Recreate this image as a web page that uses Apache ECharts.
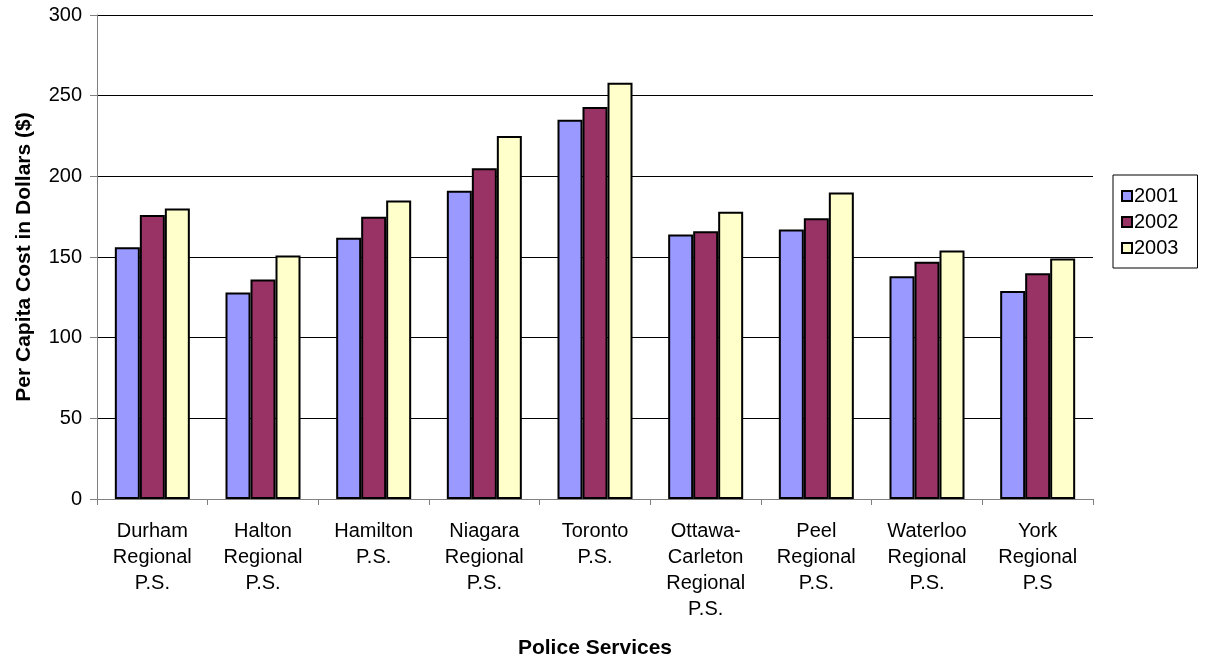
<!DOCTYPE html>
<html><head><meta charset="utf-8">
<script src="https://cdn.jsdelivr.net/npm/echarts@6/dist/echarts.min.js"></script>
<style>html,body{margin:0;padding:0;background:#fff}#c{width:1209px;height:666px}</style>
</head><body><div id="c"></div>
<script>
const categories = ["Durham\nRegional\nP.S.","Halton\nRegional\nP.S.","Hamilton\nP.S.","Niagara\nRegional\nP.S.","Toronto\nP.S.","Ottawa-\nCarleton\nRegional\nP.S.","Peel\nRegional\nP.S.","Waterloo\nRegional\nP.S.","York\nRegional\nP.S"];
const s2001 = [156,128,162,191,235,164,167,138,129];
const s2002 = [176,136,175,205,243,166,174,147,140];
const s2003 = [180,151,185,225,258,178,190,154,149];
const seriesNames = ["2001","2002","2003"];
const colors = ["#9999ff","#993366","#ffffcc"];
const font = "Liberation Sans, Arial, sans-serif";
const chart = echarts.init(document.getElementById('c'));
const mk = (name, data, col) => ({
  name, type:'bar', data, barWidth:25, barGap:'0%',
  itemStyle:{color:col, borderColor:'#000', borderWidth:2},
});
chart.setOption({
  animation:false,
  grid:{left:97, right:116, top:15, bottom:167},
  legend:{
    orient:'vertical', left:1113, top:175,
    padding:[11,19,10,8], itemGap:6,
    borderColor:'#000', borderWidth:1,
    itemWidth:10, itemHeight:10, icon:'rect',
    textStyle:{fontFamily:font, fontSize:20, lineHeight:20, color:'#000', padding:[0,0,0,-3]},
    data:seriesNames.map((n,i)=>({name:n, itemStyle:{color:colors[i], borderColor:'#000', borderWidth:2}}))
  },
  xAxis:{
    type:'category', data:categories,
    name:'Police Services', nameLocation:'middle', nameGap:139,
    nameTextStyle:{fontFamily:font, fontSize:21, fontWeight:'bold', color:'#000'},
    axisLine:{lineStyle:{color:'#808080', width:1}},
    axisTick:{show:true, length:6, lineStyle:{color:'#808080'}},
    axisLabel:{fontFamily:font, fontSize:20, color:'#000', lineHeight:26, margin:19, interval:0}
  },
  yAxis:{
    type:'value', min:0, max:300, interval:50,
    name:'Per Capita Cost in Dollars ($)', nameLocation:'middle', nameGap:62,
    nameTextStyle:{fontFamily:font, fontSize:21, fontWeight:'bold', color:'#000'},
    axisLine:{show:true, lineStyle:{color:'#808080'}},
    axisTick:{show:true, length:7, lineStyle:{color:'#808080'}},
    axisLabel:{fontFamily:font, fontSize:20, color:'#000', margin:15},
    splitLine:{lineStyle:{color:'#000', width:1}}
  },
  series:[mk(seriesNames[0], s2001, colors[0]), mk(seriesNames[1], s2002, colors[1]), mk(seriesNames[2], s2003, colors[2])]
});
</script></body></html>
